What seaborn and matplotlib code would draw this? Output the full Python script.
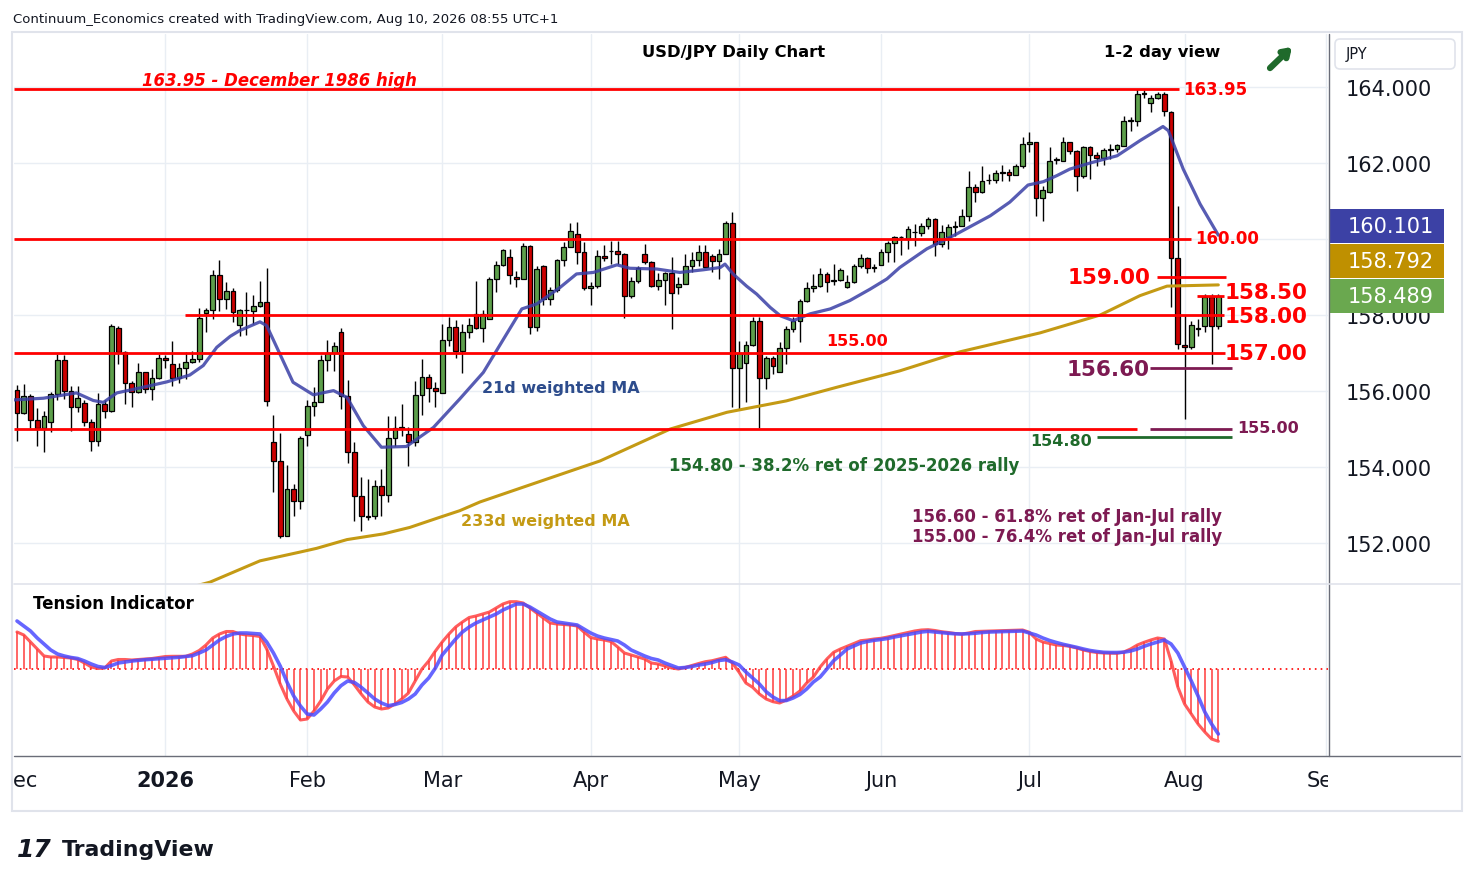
import numpy as np
import pandas as pd
import matplotlib
matplotlib.use("Agg")
import matplotlib.pyplot as plt
from matplotlib.patches import Rectangle, FancyBboxPatch
from matplotlib.lines import Line2D
import seaborn as sns

# daily USD/JPY bars, 2 Dec 2025 .. 10 Aug 2026 (no bar on 1 Jan)
dates = pd.bdate_range("2025-12-02", "2026-08-10").drop(pd.Timestamp("2026-01-01"))

opens = [156.03, 155.42, 155.86, 155.24, 155.03, 155.18, 155.92, 156.82, 156.00, 155.58,
         155.68, 155.19, 154.69, 155.66, 155.47, 157.66, 157.03, 156.20, 155.97, 156.50,
         156.05, 156.34, 156.87, 156.71, 156.34, 156.60, 156.76, 156.84, 158.05, 158.13,
         159.05, 158.42, 158.63, 157.75, 158.12, 158.10, 158.23, 158.33, 154.65, 154.15,
         152.18, 153.42, 153.10, 154.85, 155.60, 155.70, 156.82, 156.99, 157.54, 155.86,
         154.39, 153.23, 152.72, 152.70, 153.51, 153.26, 154.77, 155.03, 154.86, 154.65,
         155.89, 156.36, 156.09, 155.94, 157.34, 157.68, 157.04, 157.54, 158.03, 157.65,
         157.89, 158.95, 159.32, 159.52, 159.00, 158.95, 159.81, 157.68, 159.30, 158.42,
         158.67, 159.45, 159.78, 160.13, 159.65, 158.70, 158.76, 159.56, 159.68, 159.68,
         159.60, 158.51, 158.90, 159.61, 159.40, 158.76, 158.93, 159.10, 158.73, 158.82,
         159.30, 159.45, 159.65, 159.54, 159.41, 159.60, 160.42, 156.60, 156.75, 157.21,
         157.85, 156.33, 156.86, 156.51, 157.12, 157.63, 157.83, 158.36, 158.70, 158.77,
         159.07, 158.90, 158.92, 158.73, 158.86, 159.28, 159.49, 159.24, 159.32, 159.67,
         159.89, 160.04, 160.01, 160.18, 160.15, 160.33, 160.53, 159.86, 160.05, 160.31,
         160.35, 160.61, 161.36, 161.23, 161.55, 161.55, 161.75, 161.76, 161.69, 161.91,
         162.50, 162.54, 161.07, 161.23, 162.08, 162.06, 162.54, 162.32, 161.65, 162.41,
         162.21, 162.12, 162.35, 162.37, 162.46, 163.10, 163.11, 163.82, 163.58, 163.70,
         163.82, 163.35, 159.49, 157.20, 157.15, 157.62, 157.70, 158.47, 157.70]
highs = [156.16, 156.18, 155.92, 155.54, 155.48, 155.98, 156.97, 156.95, 156.14, 156.14,
         155.76, 155.26, 155.96, 155.76, 157.76, 157.70, 157.06, 156.27, 156.74, 156.51,
         156.58, 156.97, 156.95, 157.31, 156.75, 157.02, 157.06, 158.18, 158.18, 159.19,
         159.46, 158.88, 158.70, 158.16, 158.60, 158.53, 158.90, 159.23, 155.37, 154.89,
         154.05, 153.55, 154.81, 155.77, 156.10, 156.95, 157.34, 157.30, 157.66, 156.29,
         154.65, 153.75, 153.68, 153.67, 153.95, 155.33, 155.33, 155.66, 155.04, 156.27,
         156.84, 156.44, 156.23, 157.76, 157.96, 157.88, 157.76, 157.91, 158.90, 158.14,
         158.99, 159.43, 159.74, 159.74, 159.17, 159.90, 159.83, 159.30, 159.32, 158.73,
         159.47, 159.93, 160.42, 160.44, 159.91, 158.86, 159.72, 159.83, 159.96, 159.96,
         159.62, 158.99, 159.30, 159.87, 159.43, 159.10, 159.14, 159.52, 158.99, 159.60,
         159.65, 159.83, 159.83, 159.60, 159.74, 160.48, 160.70, 157.32, 157.32, 157.94,
         157.94, 156.93, 156.93, 157.30, 157.72, 157.94, 158.42, 158.86, 159.08, 159.25,
         159.12, 159.34, 159.23, 159.04, 159.34, 159.60, 159.52, 159.34, 159.74, 159.96,
         160.07, 160.09, 160.33, 160.39, 160.42, 160.57, 160.54, 160.37, 160.39, 160.48,
         160.79, 161.80, 161.45, 161.93, 161.71, 161.82, 161.95, 161.84, 161.97, 162.68,
         162.81, 162.56, 161.40, 162.41, 162.15, 162.68, 162.56, 162.35, 162.44, 162.44,
         162.28, 162.39, 162.50, 162.50, 163.25, 163.20, 163.95, 163.92, 163.80, 163.87,
         163.88, 163.38, 160.88, 158.00, 157.85, 157.90, 158.55, 158.55, 158.55]
lows = [154.69, 155.40, 155.03, 154.54, 154.39, 154.93, 155.77, 155.79, 154.96, 155.44,
        155.09, 154.43, 154.54, 155.29, 155.44, 156.71, 155.66, 155.57, 155.95, 155.95,
        155.77, 156.32, 156.60, 156.14, 156.21, 156.32, 156.75, 156.77, 157.54, 157.89,
        158.11, 158.16, 157.82, 157.44, 157.47, 157.76, 158.20, 155.61, 153.33, 152.12,
        152.18, 152.72, 152.90, 154.56, 155.33, 155.70, 156.53, 156.53, 155.53, 154.10,
        152.59, 152.32, 152.61, 152.63, 152.72, 153.09, 154.56, 154.82, 154.02, 154.54,
        155.38, 155.72, 155.57, 155.94, 157.18, 156.86, 156.47, 157.39, 157.63, 157.30,
        157.89, 158.60, 159.30, 158.82, 158.73, 158.95, 157.50, 157.59, 158.26, 158.26,
        158.60, 159.30, 159.78, 159.34, 158.67, 158.26, 158.70, 159.43, 159.34, 159.34,
        157.91, 158.46, 158.84, 159.34, 158.73, 158.67, 158.26, 157.63, 158.55, 158.82,
        159.12, 159.30, 159.27, 159.12, 158.96, 159.60, 155.57, 155.53, 155.72, 157.19,
        155.02, 156.05, 156.45, 156.51, 156.71, 157.56, 157.30, 158.35, 158.61, 158.75,
        158.61, 158.79, 158.90, 158.72, 158.84, 159.25, 159.10, 159.12, 159.31, 159.39,
        159.39, 159.58, 159.74, 159.81, 160.07, 160.26, 159.54, 159.78, 159.75, 160.07,
        160.33, 160.48, 160.98, 161.20, 161.45, 161.47, 161.53, 161.53, 161.68, 161.86,
        162.30, 160.60, 160.48, 161.20, 161.97, 162.04, 162.24, 161.27, 161.60, 161.58,
        161.91, 161.95, 162.10, 162.28, 162.45, 162.85, 162.98, 163.70, 163.33, 163.68,
        163.25, 158.20, 157.10, 155.26, 157.10, 157.45, 157.55, 156.71, 157.62]
closes = [155.42, 155.86, 155.24, 155.03, 155.34, 155.92, 156.82, 156.00, 155.58, 155.82,
          155.19, 154.69, 155.66, 155.47, 157.71, 157.03, 156.20, 155.97, 156.50, 156.05,
          156.34, 156.87, 156.82, 156.34, 156.60, 156.76, 156.84, 157.92, 158.13, 159.05,
          158.42, 158.63, 158.07, 158.13, 158.14, 158.23, 158.33, 155.75, 154.15, 152.18,
          153.42, 153.10, 154.76, 155.60, 155.70, 156.82, 156.99, 157.18, 155.86, 154.39,
          153.23, 152.72, 152.68, 153.51, 153.26, 154.77, 155.03, 155.05, 154.65, 155.89,
          156.36, 156.09, 156.00, 157.34, 157.68, 157.04, 157.54, 157.75, 157.65, 158.03,
          158.95, 159.32, 159.71, 159.05, 158.95, 159.81, 157.68, 159.21, 158.42, 158.67,
          159.45, 159.78, 160.22, 159.65, 158.70, 158.76, 159.56, 159.50, 159.69, 159.60,
          158.51, 158.90, 159.23, 159.40, 158.76, 158.93, 159.10, 158.57, 158.82, 159.30,
          159.45, 159.65, 159.27, 159.41, 159.60, 160.42, 156.60, 157.00, 157.21, 157.85,
          156.33, 156.86, 156.65, 157.12, 157.63, 157.83, 158.36, 158.70, 158.77, 159.07,
          158.88, 158.92, 159.18, 158.86, 159.28, 159.49, 159.24, 159.25, 159.67, 159.90,
          160.04, 160.05, 160.26, 160.19, 160.33, 160.53, 159.86, 160.18, 160.31, 160.35,
          160.61, 161.36, 161.23, 161.53, 161.56, 161.75, 161.76, 161.69, 161.91, 162.50,
          162.54, 161.07, 161.30, 162.04, 162.10, 162.54, 162.32, 161.65, 162.41, 162.21,
          162.12, 162.35, 162.37, 162.47, 163.11, 163.12, 163.82, 163.83, 163.70, 163.82,
          163.38, 159.49, 157.25, 157.15, 157.75, 157.65, 158.47, 157.70, 158.489]

# 21d weighted MA (bar position, value)
ma21_bar = [-1, 3.9, 8.8, 11.3, 12.8, 14.8, 18.7, 22.2, 25.6, 27.6, 29.6, 31.6, 33.0, 36.0,
            37.0, 40.9, 43.9, 46.9, 48.9, 51.3, 54.0, 57.7, 61.7, 65.6, 69.1, 72.1, 74.8,
            77.0, 80.5, 82.9, 85.4, 88.9, 90.8, 94.8, 98.2, 101.7, 104.2, 104.9, 106.1,
            108.1, 109.6, 111.6, 113.1, 115.0, 117.5, 120.5, 123.4, 126.4, 128.9, 130.8,
            134.8, 139.2, 144.2, 147.1, 149.8, 152.1, 154.1, 156.0, 159.0, 163.0, 166.4,
            169.8, 170.6, 172.8, 175.3, 178]
ma21_val = [155.76, 155.81, 155.95, 155.75, 155.70, 155.95, 156.10, 156.24, 156.42, 156.67,
            157.15, 157.44, 157.59, 157.82, 157.72, 156.23, 155.90, 156.01, 155.83, 155.09,
            154.52, 154.54, 155.04, 155.79, 156.49, 157.37, 158.16, 158.29, 158.73, 159.08,
            159.12, 159.32, 159.23, 159.21, 159.12, 159.19, 159.25, 159.34, 159.08, 158.76,
            158.55, 158.20, 157.98, 157.85, 158.03, 158.16, 158.38, 158.68, 158.95, 159.25,
            159.74, 160.13, 160.61, 160.97, 161.42, 161.51, 161.67, 161.84, 162.00, 162.19,
            162.59, 162.96, 162.85, 161.84, 160.92, 160.101]

# 233d weighted MA
ma233_bar = [25, 28.6, 36.0, 41.9, 44.4, 48.9, 54.3, 58.2, 62.2, 65.6, 68.6, 76.0, 86.4,
             96.8, 105.2, 114.0, 121.5, 130.8, 139.7, 151.6, 160.5, 166.4, 170.4, 178]
ma233_val = [150.80, 150.97, 151.53, 151.76, 151.86, 152.09, 152.24, 152.41, 152.65, 152.85,
             153.08, 153.53, 154.16, 155.00, 155.44, 155.74, 156.10, 156.53, 157.03, 157.53,
             158.00, 158.51, 158.76, 158.792]

# Tension indicator (red) and its signal (blue), one value per bar
tension = [37, 34, 27, 20, 13, 12, 12, 11.5, 11, 9.5, 6, 2, 0.5, 1, 8, 9.5, 9.5, 9, 9.5, 10,
           10.5, 11.5, 12.5, 12.7, 12.7, 12.7, 15, 18.5, 24, 31, 35, 37.5, 37.5, 35, 34, 33.5,
           32.5, 20, 3, -15, -30, -42, -51, -50, -42, -32, -20, -12, -7.5, -8, -16, -25, -33,
           -38, -40, -39, -35, -30, -24, -12, 0, 8, 18, 27, 35, 42, 47, 51.5, 53, 55, 57, 61,
           65, 67.3, 67.3, 66, 61, 56, 51, 46, 45, 44.5, 44, 43, 37, 31.5, 30, 29, 27.5, 22,
           16, 14, 12, 10, 6, 5, 3, 1, 0, 1.5, 3.5, 5.5, 7.3, 8.3, 10, 11.7, 6, -3.3, -14,
           -18.3, -25, -30, -32.7, -34, -31, -27, -22, -14, -8, 2, 10, 16.7, 20, 22.7, 25.5,
           28.3, 29, 30, 30.7, 32, 33.5, 35, 36.5, 38, 39, 39.3, 38.5, 37.3, 36.5, 35.5, 35,
           36, 37.5, 37.7, 38, 38.2, 38.3, 38.5, 38.7, 39, 36.7, 30, 27, 25.5, 24, 23.5, 22.7,
           21, 19, 17.5, 16.5, 16, 15.8, 15.7, 17, 20, 24, 26.7, 29, 31, 30, 8, -18, -35, -45,
           -55, -63, -70, -72.3]
signal = [48, 43, 38, 31, 25, 19, 15, 13, 11.5, 10.5, 8, 5, 2.5, 1.5, 3.5, 6, 7, 8, 8.7, 9.3,
          9.8, 10.3, 10.8, 11.3, 11.7, 12.5, 13.3, 16, 19, 24, 29, 32.5, 35, 36, 36, 35.5, 35,
          27, 16, 3, -13, -27, -37, -45, -46, -40, -33, -24, -16.7, -12, -13.5, -18.3, -24,
          -30, -34, -36.7, -35.5, -33.5, -30, -25, -16, -9, 1, 14, 22, 30, 37, 42, 46, 49, 52,
          55, 59, 62, 65, 65, 62, 58, 54, 50, 47, 46, 45, 44, 40, 36, 33, 31, 29.5, 28, 24, 19,
          16, 13, 10.5, 9, 6, 3.5, 1, 1.5, 2.5, 4, 5, 6.5, 8.5, 9.3, 7, 4, -3, -9, -15, -22.7,
          -28, -31.7, -31.5, -29, -25.5, -20, -13, -8, 0, 8.3, 14, 20, 23, 26, 27.5, 28.7,
          29.5, 30.5, 32, 33.3, 34.5, 35.7, 37, 37.7, 37, 36.3, 35.7, 35.2, 35, 35.3, 35.8,
          36.5, 37, 37.2, 37.5, 37.7, 37.8, 38, 36, 34, 31, 28.5, 26.5, 24.7, 23.2, 21.7, 20,
          18.5, 17.5, 16.7, 16.5, 16.5, 16.8, 18, 20, 22.7, 25, 27, 29, 25, 16, 2, -12, -27,
          -43, -55, -65]

RED, PURPLE, DGREEN = "#ff0000", "#7d1a52", "#1f6a2b"

W, H = 1474, 887
X0, KX = 17, 6.749      # bar 0 sits at pixel 17, 6.749 px per bar
Y164, KY = 88, 38       # 164.000 at pixel 88, 38 px per yen


def bx(xp):
    return (xp - X0) / KX


def py(yp):
    return 164 - (yp - Y164) / KY


def box(l, t, r, b):
    return [l / W, 1 - b / H, (r - l) / W, (b - t) / H]


sns.set_style("white")
plt.rcParams["font.family"] = ["DejaVu Sans"]

fig = plt.figure(figsize=(W / 100, H / 100), dpi=100)
ax = fig.add_axes(box(14, 35, 1328, 585))
axi = fig.add_axes(box(14, 585, 1328, 757))
axt = fig.add_axes(box(14, 757, 1328, 810))
axr = fig.add_axes(box(1328, 35, 1460, 757))

bars = np.arange(len(dates))
xlim = (bx(14), bx(1328))

# month starts (extend to September for the last label)
ext = pd.bdate_range("2025-12-02", "2026-09-30").drop(pd.Timestamp("2026-01-01"))
ext_s = pd.Series(np.arange(len(ext)), index=ext)
month_pos = ext_s.groupby([ext.year, ext.month]).first()
month_lab = [("2026" if m == 1 else pd.Timestamp(y, m, 1).strftime("%b")) for (y, m) in month_pos.index]

# ---- price pane
o, h, l, c = map(np.array, (opens, highs, lows, closes))
up = c >= o
body_lo = np.minimum(o, c)
body_h = np.maximum(np.abs(c - o), 0.015)
ax.vlines(bars, l, h, color="black", lw=1, zorder=3)
ax.bar(bars, body_h, bottom=body_lo, width=0.7,
       color=np.where(up, "#5d9f4b", "#cc0000"), edgecolor="black", linewidth=0.9, zorder=4)

sns.lineplot(x=ma21_bar, y=ma21_val, ax=ax, color="#3a3fa6", lw=2.3, alpha=0.85,
             sort=False, estimator=None, zorder=5)
sns.lineplot(x=ma233_bar, y=ma233_val, ax=ax, color="#c49a14", lw=2.2,
             sort=False, estimator=None, zorder=5)

# level lines: value, colour, left px, right px
levels = [
    (163.95, RED, 14, 1179), (160.00, RED, 14, 1191), (159.00, RED, 1157, 1226),
    (158.50, RED, 1197, 1224), (158.00, RED, 185, 1224), (157.00, RED, 14, 1225),
    (155.00, RED, 14, 1137), (156.60, PURPLE, 1150, 1232), (155.00, PURPLE, 1150, 1232),
    (154.80, DGREEN, 1097, 1232),
]
for val, col, xa, xb in levels:
    ax.hlines(val, bx(xa), bx(xb), color=col, lw=2, zorder=6)

ax.set_xlim(*xlim)
ax.set_ylim(py(585), py(35))
ax.set_yticks(np.arange(152, 165, 2))
# 160.000 sits fully under the last-value tag on the scale
ax.yaxis.set_major_formatter(matplotlib.ticker.FuncFormatter(
    lambda v, p: "" if abs(v - 160) < 1e-6 else f"{v:.3f}"))
ax.yaxis.tick_right()
ax.tick_params(axis="y", length=0, pad=13, labelsize=15, labelcolor="#131722")
ax.set_xticks(month_pos.values[1:])
ax.tick_params(axis="x", length=0, labelbottom=False)
ax.grid(True, color="#e9eef4", lw=1)
for s in ax.spines.values():
    s.set_visible(False)


def t(xp, yp, s, color="black", size=11.5, ha="left", style="normal", weight="bold"):
    ax.text(bx(xp), py(yp), s, color=color, fontsize=size, ha=ha, va="center",
            fontweight=weight, fontstyle=style, zorder=8)


t(734, 53, "USD/JPY Daily Chart", ha="center", size=11.8)
t(1162, 53, "1-2 day view", ha="center", size=11.8)
ax.annotate("", xy=(bx(1294), py(46)), xytext=(bx(1268), py(71)),
            arrowprops=dict(arrowstyle="->,head_length=0.45,head_width=0.3",
                            lw=4.5, color="#1f6a2b"), zorder=8)
t(142, 81, "163.95 - December 1986 high", color=RED, size=11.9, style="italic")
t(1183, 90, "163.95", color=RED, size=12)
t(1195, 239, "160.00", color=RED, size=12)
t(1150, 278, "159.00", color=RED, size=15.5, ha="right")
t(1225, 293, "158.50", color=RED, size=15.5)
t(1225, 317, "158.00", color=RED, size=15.5)
t(1225, 354, "157.00", color=RED, size=15.5)
t(1150, 370, "156.60", color=PURPLE, size=15.5, ha="right")
t(857, 342, "155.00", color=RED, size=11.5, ha="center")
t(1237, 428, "155.00", color=PURPLE, size=11.5)
t(1092, 441, "154.80", color=DGREEN, size=11.5, ha="right")
t(482, 388, "21d weighted MA", color="#2d4c8c", size=11.5)
t(461, 521, "233d weighted MA", color="#c49a14", size=11.5)
t(669, 466, "154.80 - 38.2% ret of 2025-2026 rally", color=DGREEN, size=12)
t(912, 517, "156.60 - 61.8% ret of Jan-Jul rally", color=PURPLE, size=12)
t(912, 537, "155.00 - 76.4% ret of Jan-Jul rally", color=PURPLE, size=12)

# ---- tension indicator pane
tv = np.array(tension)
axi.vlines(bars, 0, tv, color="#ff3030", lw=1.3, alpha=0.8, zorder=3)
sns.lineplot(x=bars, y=tv, ax=axi, color="#ff4040", lw=2.2, alpha=0.85,
             sort=False, estimator=None, zorder=4)
sns.lineplot(x=bars, y=signal, ax=axi, color="#4b4bff", lw=2.6, alpha=0.85,
             sort=False, estimator=None, zorder=5)
axi.axhline(0, color="#ff0000", lw=1.2, ls=(0, (1, 2.5)), zorder=2)
axi.set_xlim(*xlim)
axi.set_ylim(-87, 85)
axi.set_xticks(month_pos.values[1:])
axi.set_yticks([])
axi.tick_params(axis="x", length=0, labelbottom=False)
axi.grid(True, axis="x", color="#e9eef4", lw=1)
for s in axi.spines.values():
    s.set_visible(False)
axi.text(bx(33), 670 - 604, "Tension Indicator", fontsize=12, fontweight="bold",
         va="center", ha="left", color="black")

# ---- time axis
axt.set_xlim(*xlim)
axt.set_ylim(0, 1)
axt.axis("off")
for pos, lab in zip(month_pos.values, month_lab):
    axt.text(pos, 0.55, lab, ha="center", va="center", fontsize=15, color="#131722",
             fontweight="bold" if lab == "2026" else "normal", clip_on=True)

# ---- right price scale: JPY tag and last-value labels
axr.set_xlim(1328, 1460)
axr.set_ylim(757, 35)
axr.axis("off")
axr.patch.set_alpha(0)
axr.add_patch(FancyBboxPatch((1335, 40), 120, 30, boxstyle="round,pad=0,rounding_size=5",
                             fc="white", ec="#e0e3eb", lw=1.2))
axr.text(1346, 55, "JPY", fontsize=10.5, va="center", ha="left", color="#131722")
tags = [(f"{ma21_val[-1]:.3f}", "#3c41a5", 210), (f"{ma233_val[-1]:.3f}", "#bf9000", 245),
        (f"{closes[-1]:.3f}", "#6aa84f", 280)]
for txt, col, top in tags:
    axr.add_patch(Rectangle((1329, top), 115, 34, fc=col, ec="none", zorder=3))
    axr.text(1348, top + 17, txt, color="white", fontsize=15, va="center", ha="left", zorder=4)

# ---- frame and separators
frame = Rectangle((12 / W, 1 - 812 / H), 1450 / W, 779 / H, transform=fig.transFigure,
                  fill=False, ec="#e0e3eb", lw=1.5)
fig.patches.append(frame)
fig.lines.append(Line2D([1329 / W, 1329 / W], [1 - 35 / H, 1 - 757 / H],
                        transform=fig.transFigure, color="#6a6d78", lw=1))
fig.lines.append(Line2D([14 / W, 1460 / W], [1 - 757 / H, 1 - 757 / H],
                        transform=fig.transFigure, color="#6a6d78", lw=1))
fig.lines.append(Line2D([14 / W, 1460 / W], [1 - 585 / H, 1 - 585 / H],
                        transform=fig.transFigure, color="#e0e3eb", lw=1.2))

fig.text(13 / W, 1 - 19 / H, "Continuum_Economics created with TradingView.com, Aug 10, 2026 08:55 UTC+1",
         fontsize=9.5, va="center", ha="left", color="#131722")
fig.text(17 / W, 1 - 850 / H, "17", fontsize=18, fontweight="heavy", va="center", ha="left",
         color="#131722", fontstyle="italic")
fig.text(62 / W, 1 - 850 / H, "TradingView", fontsize=15.8, fontweight="bold", va="center",
         ha="left", color="#131722")

fig.savefig("out.png", dpi=100)
